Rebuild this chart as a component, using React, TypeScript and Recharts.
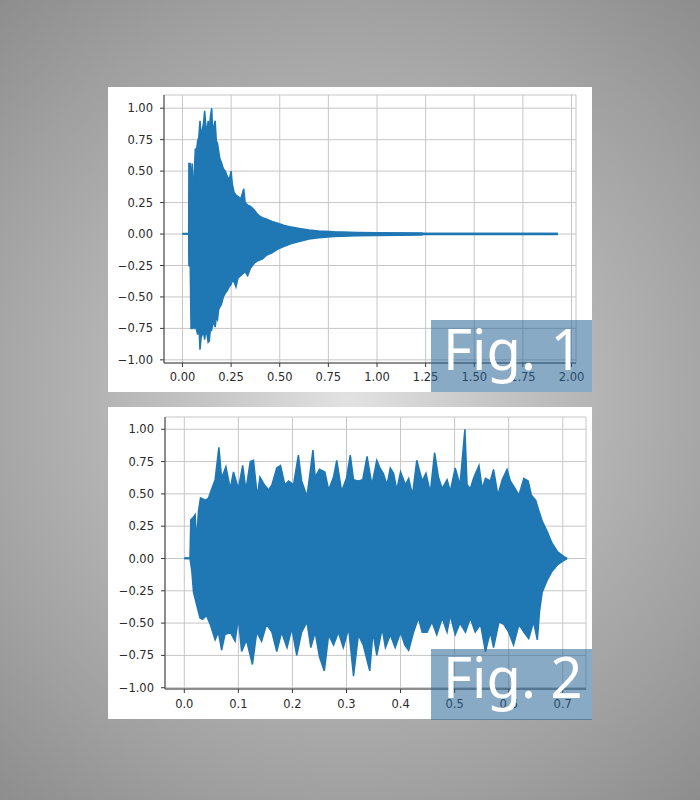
import { ComposedChart, Area, XAxis, YAxis, CartesianGrid } from 'recharts';

// Fig. 1 — decaying waveform, envelope (seconds, amplitude)
const T1 = [0, 0.032, 0.033, 0.04, 0.044, 0.05, 0.054, 0.06, 0.066, 0.072, 0.078, 0.084, 0.09, 0.096, 0.102, 0.108, 0.114, 0.12, 0.126, 0.132, 0.138, 0.144, 0.15, 0.156, 0.162, 0.168, 0.174, 0.18, 0.186, 0.192, 0.2, 0.21, 0.22, 0.23, 0.24, 0.25, 0.256, 0.265, 0.275, 0.285, 0.3, 0.315, 0.322, 0.335, 0.35, 0.37, 0.39, 0.41, 0.43, 0.46, 0.49, 0.52, 0.56, 0.6, 0.65, 0.7, 0.78, 0.9, 1.0, 1.23, 1.24, 1.93];
const UP1 = [0, 0, 0.56, 0.56, 0.4, 0.56, 0.4, 0.45, 0.68, 0.66, 0.74, 0.77, 0.9, 0.78, 0.83, 0.88, 0.98, 0.86, 0.82, 0.9, 0.84, 0.94, 1.0, 0.8, 0.86, 0.9, 0.74, 0.72, 0.66, 0.6, 0.57, 0.52, 0.5, 0.46, 0.43, 0.5, 0.4, 0.33, 0.31, 0.3, 0.28, 0.36, 0.25, 0.23, 0.22, 0.19, 0.15, 0.13, 0.12, 0.1, 0.085, 0.07, 0.055, 0.045, 0.032, 0.025, 0.018, 0.012, 0.01, 0.008, 0.004, 0.004];
const LO1 = [0, 0, -0.25, -0.26, -0.75, -0.75, -0.74, -0.75, -0.73, -0.76, -0.8, -0.7, -0.92, -0.82, -0.8, -0.78, -0.84, -0.76, -0.8, -0.86, -0.85, -0.74, -0.76, -0.72, -0.7, -0.74, -0.66, -0.68, -0.6, -0.58, -0.56, -0.5, -0.47, -0.45, -0.42, -0.4, -0.37, -0.38, -0.42, -0.35, -0.33, -0.31, -0.3, -0.33, -0.27, -0.23, -0.21, -0.2, -0.17, -0.15, -0.12, -0.1, -0.075, -0.06, -0.04, -0.03, -0.02, -0.014, -0.011, -0.008, -0.004, -0.004];

// Fig. 2 — sustained noisy waveform
const T2_UP = [0, 0.0105, 0.012, 0.017, 0.02, 0.023, 0.026, 0.03, 0.035, 0.04, 0.045, 0.05, 0.057, 0.064, 0.069, 0.077, 0.085, 0.091, 0.1, 0.108, 0.114, 0.122, 0.128, 0.135, 0.14, 0.148, 0.156, 0.162, 0.171, 0.178, 0.186, 0.193, 0.202, 0.211, 0.217, 0.227, 0.238, 0.242, 0.25, 0.26, 0.267, 0.276, 0.282, 0.291, 0.3, 0.307, 0.313, 0.322, 0.33, 0.338, 0.347, 0.356, 0.362, 0.368, 0.375, 0.381, 0.387, 0.393, 0.4, 0.409, 0.415, 0.422, 0.43, 0.44, 0.447, 0.455, 0.463, 0.47, 0.477, 0.486, 0.492, 0.501, 0.51, 0.519, 0.523, 0.529, 0.535, 0.545, 0.551, 0.557, 0.566, 0.572, 0.58, 0.588, 0.597, 0.603, 0.612, 0.619, 0.628, 0.636, 0.642, 0.65, 0.655, 0.662, 0.671, 0.68, 0.69, 0.702, 0.708];
const UP2 = [0, 0, 0.3, 0.32, 0.34, 0.13, 0.36, 0.47, 0.46, 0.45, 0.47, 0.53, 0.61, 0.86, 0.62, 0.71, 0.54, 0.67, 0.54, 0.72, 0.53, 0.75, 0.76, 0.48, 0.63, 0.57, 0.53, 0.57, 0.7, 0.72, 0.57, 0.6, 0.57, 0.8, 0.6, 0.48, 0.84, 0.63, 0.69, 0.67, 0.53, 0.63, 0.76, 0.52, 0.62, 0.8, 0.61, 0.6, 0.61, 0.79, 0.57, 0.76, 0.7, 0.66, 0.57, 0.7, 0.66, 0.53, 0.67, 0.57, 0.62, 0.49, 0.76, 0.6, 0.66, 0.51, 0.82, 0.63, 0.54, 0.61, 0.52, 0.7, 0.57, 1.0, 0.57, 0.54, 0.62, 0.72, 0.54, 0.62, 0.6, 0.69, 0.49, 0.61, 0.69, 0.6, 0.54, 0.49, 0.62, 0.6, 0.49, 0.45, 0.38, 0.29, 0.21, 0.12, 0.054, 0.015, 0];
const T2_LO = [0, 0.0105, 0.014, 0.017, 0.023, 0.029, 0.034, 0.041, 0.048, 0.057, 0.063, 0.069, 0.075, 0.085, 0.094, 0.1, 0.106, 0.115, 0.126, 0.134, 0.143, 0.152, 0.162, 0.171, 0.18, 0.19, 0.199, 0.208, 0.217, 0.227, 0.234, 0.242, 0.25, 0.259, 0.267, 0.276, 0.285, 0.294, 0.304, 0.313, 0.322, 0.331, 0.343, 0.349, 0.356, 0.366, 0.372, 0.381, 0.39, 0.4, 0.408, 0.415, 0.424, 0.433, 0.44, 0.449, 0.458, 0.467, 0.477, 0.486, 0.492, 0.501, 0.51, 0.52, 0.529, 0.538, 0.548, 0.557, 0.566, 0.572, 0.582, 0.591, 0.6, 0.609, 0.619, 0.628, 0.637, 0.646, 0.653, 0.657, 0.662, 0.671, 0.68, 0.69, 0.7, 0.708];
const LO2 = [0, 0, -0.1, -0.26, -0.36, -0.46, -0.47, -0.44, -0.51, -0.63, -0.57, -0.71, -0.59, -0.57, -0.64, -0.46, -0.72, -0.63, -0.82, -0.57, -0.64, -0.51, -0.57, -0.72, -0.57, -0.69, -0.54, -0.75, -0.57, -0.49, -0.69, -0.57, -0.76, -0.87, -0.59, -0.67, -0.57, -0.69, -0.54, -0.91, -0.59, -0.67, -0.87, -0.57, -0.75, -0.54, -0.69, -0.59, -0.69, -0.57, -0.67, -0.71, -0.57, -0.46, -0.57, -0.57, -0.49, -0.59, -0.46, -0.57, -0.44, -0.59, -0.5, -0.57, -0.46, -0.57, -0.51, -0.72, -0.57, -0.69, -0.49, -0.51, -0.57, -0.67, -0.51, -0.57, -0.62, -0.49, -0.63, -0.41, -0.26, -0.17, -0.1, -0.05, -0.02, 0];

const Y_TICKS = [-1, -0.75, -0.5, -0.25, 0, 0.25, 0.5, 0.75, 1];
const X_TICKS_1 = [0, 0.25, 0.5, 0.75, 1, 1.25, 1.5, 1.75, 2];
const X_TICKS_2 = [0, 0.1, 0.2, 0.3, 0.4, 0.5, 0.6, 0.7];

const BLUE = '#1f77b4';
const SPINE = '#3a3a3a';
const tickStyle = { fontFamily: 'DejaVu Sans', fontSize: 11.5, fill: '#2a2a2a' };

const zip = (ts: number[], vs: number[]) =>
  ts.slice(0, Math.min(ts.length, vs.length)).map((t, i) => ({ t, v: vs[i] }));

const fmt = (digits: number) => (v: number) =>
  (v < 0 ? '\u2212' : '') + Math.abs(v).toFixed(digits);

type WaveProps = {
  width: number;
  height: number;
  margin: { top: number; right: number; left: number; bottom: number };
  yWidth: number;
  xHeight: number;
  tickMargin: number;
  xDomain: [number, number];
  yDomain: [number, number];
  xTicks: number[];
  xDigits: number;
  upper: { t: number; v: number }[];
  lower: { t: number; v: number }[];
};

function Wave(p: WaveProps) {
  return (
    <ComposedChart width={p.width} height={p.height} margin={p.margin}>
      <CartesianGrid stroke="#c6c6c6" strokeWidth={1} />
      <XAxis
        type="number"
        dataKey="t"
        domain={p.xDomain}
        ticks={p.xTicks}
        allowDataOverflow
        height={p.xHeight}
        tick={tickStyle}
        tickFormatter={fmt(p.xDigits)}
        tickSize={4}
        tickMargin={p.tickMargin}
        stroke={SPINE}
      />
      <XAxis xAxisId="top" orientation="top" type="number" domain={p.xDomain} height={0} tick={false} tickLine={false} axisLine={{ stroke: SPINE }} />
      <YAxis
        type="number"
        domain={p.yDomain}
        ticks={Y_TICKS}
        allowDataOverflow
        width={p.yWidth}
        tick={tickStyle}
        tickFormatter={fmt(2)}
        tickSize={4}
        tickMargin={7}
        stroke={SPINE}
      />
      <YAxis yAxisId="right" orientation="right" type="number" domain={p.yDomain} width={0} tick={false} tickLine={false} axisLine={{ stroke: SPINE }} />
      <Area
        data={p.lower}
        dataKey="v"
        type="linear"
        baseValue={0.01}
        stroke={BLUE}
        strokeWidth={1.5}
        fill={BLUE}
        fillOpacity={1}
        dot={false}
        activeDot={false}
        isAnimationActive={false}
      />
      <Area
        data={p.upper}
        dataKey="v"
        type="linear"
        baseValue={0}
        stroke={BLUE}
        strokeWidth={1.5}
        fill={BLUE}
        fillOpacity={1}
        dot={false}
        activeDot={false}
        isAnimationActive={false}
      />
    </ComposedChart>
  );
}

export default function App() {
  return (
    <div
      style={{
        position: 'absolute',
        left: 0,
        top: 0,
        width: 700,
        height: 800,
        overflow: 'hidden',
        background:
          'radial-gradient(circle at 350px 400px, #e2e2e2 0px, #c4c4c4 150px, #b2b2b2 260px, #a0a0a0 400px, #8c8c8c 540px)',
      }}
    >
      <div style={{ position: 'absolute', left: 108, top: 87, width: 484, height: 305, background: '#fff' }}>
        <Wave
          width={484}
          height={305}
          margin={{ top: 8, right: 16, left: 0, bottom: 0 }}
          yWidth={56}
          xHeight={29}
          tickMargin={6}
          xDomain={[-0.095, 2.023]}
          yDomain={[-1.025, 1.105]}
          xTicks={X_TICKS_1}
          xDigits={2}
          upper={zip(T1, UP1)}
          lower={zip(T1, LO1)}
        />
      </div>
      <div style={{ position: 'absolute', left: 108, top: 407, width: 484, height: 312, background: '#fff' }}>
        <Wave
          width={484}
          height={312}
          margin={{ top: 10, right: 6, left: 0, bottom: 0 }}
          yWidth={57}
          xHeight={30}
          tickMargin={7}
          xDomain={[-0.0357, 0.743]}
          yDomain={[-1.01, 1.095]}
          xTicks={X_TICKS_2}
          xDigits={1}
          upper={zip(T2_UP, UP2)}
          lower={zip(T2_LO, LO2)}
        />
      </div>
      <svg width={700} height={800} style={{ position: 'absolute', left: 0, top: 0 }}>
        <rect x={431} y={320} width={161} height={72} fill="rgba(40,100,150,0.55)" />
        <text x={443} y={370} fill="#fff" fontFamily="Noto Sans" fontSize={56}>
          Fig. 1
        </text>
        <rect x={431} y={649} width={161} height={71} fill="rgba(40,100,150,0.55)" />
        <text x={443} y={698} fill="#fff" fontFamily="Noto Sans" fontSize={56}>
          Fig. 2
        </text>
      </svg>
    </div>
  );
}
